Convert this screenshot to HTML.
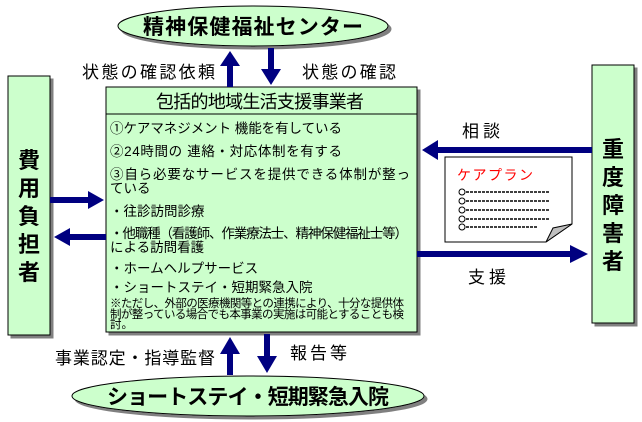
<!DOCTYPE html>
<html><head><meta charset="utf-8"><style>
body{margin:0;background:#fff;}
svg{display:block;font-family:"Liberation Sans","Noto Sans CJK JP",sans-serif;}
</style></head><body>
<svg width="642" height="422" viewBox="0 0 642 422">
<defs><filter id="s" x="-5%" y="-5%" width="115%" height="115%"><feDropShadow dx="3" dy="3" stdDeviation="0" flood-color="#808080"/></filter></defs>
<ellipse cx="253" cy="26" rx="135" ry="20" fill="#ccffcc" stroke="#000" filter="url(#s)"/>
<text x="253" y="34" font-size="21" font-weight="bold" text-anchor="middle" textLength="220">精神保健福祉センター</text>
<ellipse cx="248" cy="396" rx="176" ry="20" fill="#ccffcc" stroke="#000" filter="url(#s)"/>
<text x="248" y="404" font-size="21" font-weight="bold" text-anchor="middle" textLength="282">ショートステイ・短期緊急入院</text>
<rect x="8" y="76" width="42" height="259" fill="#ccffcc" stroke="#000" filter="url(#s)"/>
<text font-size="22" font-weight="bold" text-anchor="middle"><tspan x="29" y="168">費</tspan><tspan x="29" y="196">用</tspan><tspan x="29" y="224">負</tspan><tspan x="29" y="252">担</tspan><tspan x="29" y="280">者</tspan></text>
<rect x="592" y="65" width="42" height="258" fill="#ccffcc" stroke="#000" filter="url(#s)"/>
<text font-size="22" font-weight="bold" text-anchor="middle"><tspan x="613" y="157">重</tspan><tspan x="613" y="185">度</tspan><tspan x="613" y="213">障</tspan><tspan x="613" y="241">害</tspan><tspan x="613" y="269">者</tspan></text>
<rect x="106" y="87" width="311" height="245" fill="#ccffcc" stroke="#000" filter="url(#s)"/>
<line x1="106" y1="114" x2="417" y2="114" stroke="#000"/>
<text x="260" y="108" font-size="18" text-anchor="middle" textLength="208">包括的地域生活支援事業者</text>
<g font-size="13.5">
<text x="110" y="133" textLength="232">①ケアマネジメント 機能を有している</text>
<text x="110" y="156" textLength="232">②24時間の 連絡・対応体制を有する</text>
<text x="110" y="179" textLength="300">③自ら必要なサービスを提供できる体制が整っ</text>
<text x="110" y="193">ている</text>
<text x="110" y="216">・往診訪問診療</text>
<text x="110" y="238" textLength="298">・他職種（看護師、作業療法士、精神保健福祉士等）</text>
<text x="110" y="252">による訪問看護</text>
<text x="110" y="273">・ホームヘルプサービス</text>
<text x="110" y="292">・ショートステイ・短期緊急入院</text>
</g>
<g font-size="11.5">
<text x="110" y="307" textLength="294">※ただし、外部の医療機関等との連携により、十分な提供体</text>
<text x="110" y="318" textLength="294">制が整っている場合でも本事業の実施は可能とすることも検</text>
<text x="110" y="328">討。</text>
</g>
<g fill="#000080">
<polygon points="227,87 227,66 220,66 230,51 240,66 233,66 233,87"/>
<polygon points="268,48 268,69 261,69 271,85 281,69 274,69 274,48"/>
<polygon points="227,375 227,354 220,354 230,337 240,354 233,354 233,375"/>
<polygon points="264,334 264,356 257,356 267,373 277,356 270,356 270,334"/>
<polygon points="50,197 88,197 88,191 104,200 88,209 88,203 50,203"/>
<polygon points="106,234 70,234 70,228 54,237 70,246 70,240 106,240"/>
<polygon points="592,147 438,147 438,140 422,150 438,160 438,153 592,153"/>
<polygon points="417,251 570,251 570,245 588,254 570,263 570,257 417,257"/>
</g>
<g font-size="17">
<text x="82" y="78" textLength="133">状態の確認依頼</text>
<text x="302" y="78" textLength="94">状態の確認</text>
<text x="462" y="137" textLength="38">相談</text>
<text x="468" y="283" textLength="38">支援</text>
<text x="55" y="364" textLength="160">事業認定・指導監督</text>
<text x="290" y="359" textLength="57">報告等</text>
</g>
<polygon points="445,157 572,157 572,224 546,242 445,242" fill="#fff" stroke="#000"/>
<polygon points="546,242 553,228 572,224" fill="#c0c0c0" stroke="#000"/>
<text x="457" y="180" font-size="14" fill="#ff0000" textLength="76">ケアプラン</text>
<g fill="#fff" stroke="#000">
<circle cx="462" cy="192" r="3"/><circle cx="462" cy="201" r="3"/><circle cx="462" cy="210" r="3"/><circle cx="462" cy="219" r="3"/><circle cx="462" cy="227" r="3"/>
</g>
<g stroke="#000" stroke-dasharray="3,1" stroke-width="1.5">
<line x1="466" y1="192" x2="550" y2="192"/><line x1="466" y1="201" x2="550" y2="201"/><line x1="466" y1="210" x2="550" y2="210"/><line x1="466" y1="219" x2="550" y2="219"/><line x1="466" y1="227" x2="538" y2="227"/>
</g>
</svg>
</body></html>
